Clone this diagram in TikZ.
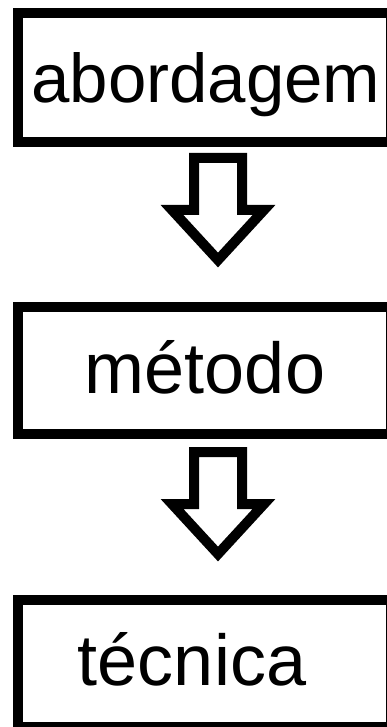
\documentclass[tikz,border=0pt]{standalone}
\usepackage{fontspec}
\setmainfont{Liberation Sans}
\begin{document}
\begin{tikzpicture}[x=1pt,y=-1pt,
  stagebox/.style={draw=black,line width=10pt,fill=white,inner sep=0pt,
    minimum width=372.8pt},
  stagetext/.style={anchor=base,inner sep=0pt,font=\fontsize{72}{80}\selectfont},
  blockarrow/.style={draw=black,line width=10pt,fill=white,line join=miter}]
  \useasboundingbox (0,0) rectangle (387,727);
  \fill[white] (0,0) rectangle (387,727);
  \begin{scope}
    \clip (0,0) rectangle (387,727);
    % the three stages
    \node[stagebox,minimum height=129.3pt] (abord) at (204.1,77.3) {};
    \node[stagebox,minimum height=126.5pt] (metodo) at (204.1,370.3) {};
    \node[stagebox,minimum height=127pt] (tecnica) at (204.1,663.5) {};
  \end{scope}
  \node[stagetext,font=\fontsize{69}{78}\selectfont] (tabord) at (206,103) {abordagem};
  \node[stagetext] (tmetodo) at (205,393) {método};
  \node[stagetext] (ttecnica) at (192,685) {técnica};
  % hollow block arrows between the stages
  \foreach \top in {158,452}{
    \draw[blockarrow] (194,\top) -- (242,\top) -- (242,\top+52) -- (264,\top+52)
      -- (218,\top+102) -- (172,\top+52) -- (194,\top+52) -- cycle;
  }
\end{tikzpicture}
\end{document}
